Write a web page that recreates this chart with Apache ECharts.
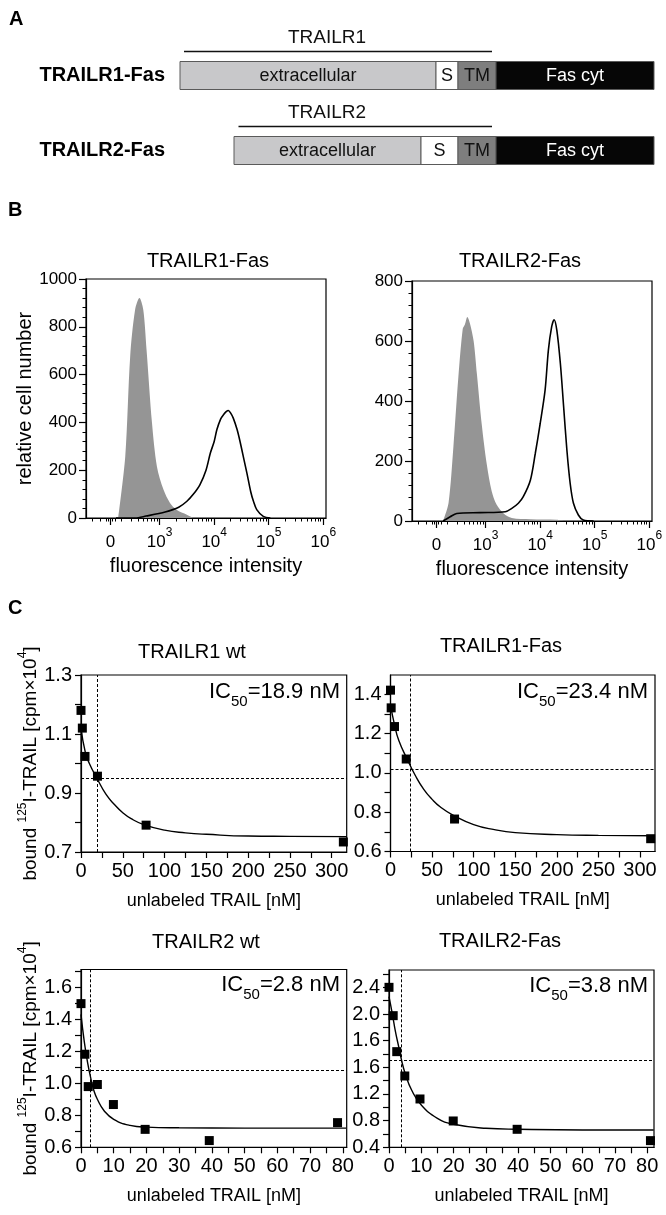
<!DOCTYPE html>
<html>
<head>
<meta charset="utf-8">
<title>TRAILR-Fas chimeras</title>
<script src="https://cdn.jsdelivr.net/npm/echarts@6/dist/echarts.min.js"></script>
<style>
  html, body { margin: 0; padding: 0; background: #fff; }
  #chart { width: 666px; height: 1215px; }
</style>
</head>
<body>
<div id="chart"></div>
<script>
var FONT = "'Liberation Sans', Arial, Helvetica, sans-serif";

// ---- A: domain schematic (x in schematic units) ----
var schemeRows = ['TRAILR1-Fas', 'TRAILR2-Fas'];
var domainNames = ['extracellular', 'S', 'TM', 'Fas cyt'];
var r1Bounds = [0, 256, 278, 316, 474];
var r2Bounds = [54, 241, 278, 316, 474];
var receptorNames = ['TRAILR1', 'TRAILR2'];
var receptorSpans = [[4, 312], [58.5, 312]];
var receptorLabelX = [147, 147];

// ---- B: flow histograms, x = position on the biexponential display axis ----
var bTickPos = [2.1, 3, 4, 5, 6];
var bTickBase = ['0', '10', '10', '10', '10'];
var bTickExp = ['', '3', '4', '5', '6'];
var bMinorPos = [1.76, 1.91, 2.02, 2.06, 2.14, 2.18, 2.30, 2.48, 2.60, 2.70, 2.78, 2.85, 2.90, 2.95,
	3.30, 3.48, 3.60, 3.70, 3.78, 3.85, 3.90, 3.95, 4.30, 4.48, 4.60, 4.70, 4.78, 4.85, 4.90, 4.95,
	5.30, 5.48, 5.60, 5.70, 5.78, 5.85, 5.90, 5.95];

var r1ControlX = [2.24, 2.37, 2.46, 2.55, 2.63, 2.70, 2.76, 2.86, 2.95, 3.07, 3.19, 3.31, 3.50, 3.62];
var r1ControlN = [0, 258, 676, 871, 920, 871, 704, 397, 216, 119, 63, 35, 14, 0];
var r1StainX = [2.20, 2.55, 2.75, 3.10, 3.35, 3.50, 3.62, 3.74, 3.85, 3.93, 4.00, 4.05, 4.12, 4.17, 4.22, 4.26, 4.30, 4.35, 4.42, 4.48, 4.55, 4.60, 4.67, 4.72, 4.78, 4.90, 5.03];
var r1StainN = [0, 0, 8, 25, 45, 70, 100, 140, 200, 272, 320, 370, 415, 432, 445, 450, 440, 418, 370, 314, 240, 188, 110, 70, 35, 7, 0];

var r2ControlX = [2.22, 2.32, 2.41, 2.50, 2.58, 2.62, 2.665, 2.71, 2.78, 2.84, 2.93, 3.02, 3.11, 3.20, 3.33, 3.48, 3.82, 4.30, 4.43];
var r2ControlN = [0, 60, 250, 480, 640, 655, 680, 660, 600, 490, 320, 190, 100, 55, 25, 10, 6, 4, 0];
var r2StainX = [2.22, 2.35, 2.47, 2.90, 3.36, 3.48, 3.60, 3.69, 3.82, 3.91, 4.00, 4.09, 4.15, 4.21, 4.255, 4.305, 4.37, 4.43, 4.49, 4.55, 4.61, 4.70, 4.79, 4.98];
var r2StainN = [0, 14, 25, 28, 31, 42, 59, 81, 136, 225, 325, 436, 569, 647, 671, 636, 525, 381, 236, 125, 59, 20, 3, 0];

// ---- C: competition binding, x = unlabeled TRAIL [nM] ----
var r1wtDoseX = [0, 1.6, 4.8, 19.7, 77.9, 314];
var r1wtBound = [1.18, 1.12, 1.024, 0.957, 0.791, 0.734];
var r1wtFitX = [0, 5, 10, 20, 30, 40, 50, 60, 75, 100, 125, 150, 200, 250, 318];
var r1wtFitY = [1.12, 1.04, 1.0, 0.945, 0.895, 0.861, 0.833, 0.813, 0.793, 0.774, 0.765, 0.760, 0.754, 0.753, 0.752];

var r1fasDoseX = [0, 0.8, 4.8, 18.9, 77, 312.8];
var r1fasBound = [1.42, 1.33, 1.235, 1.07, 0.765, 0.665];
var r1fasFitX = [0, 5, 10, 20, 30, 40, 50, 60, 75, 100, 125, 150, 200, 250, 318];
var r1fasFitY = [1.344, 1.241, 1.164, 1.07, 0.985, 0.916, 0.865, 0.826, 0.785, 0.737, 0.711, 0.696, 0.686, 0.682, 0.680];

var r2wtDoseX = [0, 1.2, 2.2, 5.0, 9.9, 19.6, 39.2, 78.4];
var r2wtBound = [1.497, 1.181, 0.979, 0.992, 0.867, 0.712, 0.642, 0.754];
var r2wtFitX = [0, 1, 2, 3, 4, 5, 7, 10, 15, 20, 30, 50, 81];
var r2wtFitY = [1.43, 1.26, 1.13, 1.03, 0.95, 0.90, 0.83, 0.775, 0.737, 0.726, 0.722, 0.72, 0.72];

var r2fasDoseX = [0, 1.3, 2.4, 4.9, 9.6, 19.9, 39.7, 81];
var r2fasBound = [2.80, 2.375, 1.835, 1.47, 1.125, 0.795, 0.67, 0.50];
var r2fasFitX = [0, 1, 2, 3, 4, 5, 7, 10, 15, 20, 30, 40, 60, 82];
var r2fasFitY = [2.66, 2.41, 2.135, 1.91, 1.685, 1.51, 1.26, 1.035, 0.835, 0.745, 0.685, 0.67, 0.66, 0.66];

var ic50Values = [18.9, 23.4, 2.8, 3.8];
var halfMax = [0.948, 1.024, 1.076, 1.70];
var ic50Text = ['18.9', '23.4', '2.8', '3.8'];
var cTitles = ['TRAILR1 wt', 'TRAILR1-Fas', 'TRAILR2 wt', 'TRAILR2-Fas'];

// axis ticks and tick labels of panel C
var xTicks300 = [0, 25, 50, 75, 100, 125, 150, 175, 200, 225, 250, 275, 300];
var xLabels300 = [0, 50, 100, 150, 200, 250, 300];
var xTicks80 = [0, 5, 10, 15, 20, 25, 30, 35, 40, 45, 50, 55, 60, 65, 70, 75, 80];
var xLabels80 = [0, 10, 20, 30, 40, 50, 60, 70, 80];
var tlYTicks = [0.7, 0.8, 0.9, 1.0, 1.1, 1.2, 1.3];
var tlYLabels = [0.7, 0.9, 1.1, 1.3];
var trYTicks = [0.6, 0.7, 0.8, 0.9, 1.0, 1.1, 1.2, 1.3, 1.4, 1.5];
var trYLabels = [0.6, 0.8, 1.0, 1.2, 1.4];
var blYTicks = [0.6, 0.7, 0.8, 0.9, 1.0, 1.1, 1.2, 1.3, 1.4, 1.5, 1.6, 1.7];
var blYLabels = [0.6, 0.8, 1.0, 1.2, 1.4, 1.6];
var brYTicks = [0.4, 0.6, 0.8, 1.0, 1.2, 1.4, 1.6, 1.8, 2.0, 2.2, 2.4, 2.6, 2.8, 3.0];
var brYLabels = [0.4, 0.8, 1.2, 1.6, 2.0, 2.4, 2.8];
var brYLabelText = ['0.4', '0.8', '1.2', '1.6', '1.6', '2.0', '2.4'];

function pairs(xs, ys) {
	var out = [];
	for (var i = 0; i < xs.length; i++) out.push([xs[i], ys[i]]);
	return out;
}

var black = '#000';
var axisLineStyle = { lineStyle: { color: black, width: 1.2 } };

// ---------- axes ----------
var xAxes = [];
var yAxes = [];

// A
xAxes.push({ gridIndex: 0, type: 'value', min: 0, max: 474, show: false });
yAxes.push({
	gridIndex: 0, type: 'category', data: schemeRows, inverse: true,
	axisLine: { show: false }, axisTick: { show: false }, splitLine: { show: false },
	axisLabel: { color: black, fontFamily: FONT, fontSize: 20, fontWeight: 'bold', margin: 15 }
});

// B
function bXAxes(grid) {
	xAxes.push({
		gridIndex: grid, type: 'value', position: 'bottom', min: 1.65, max: 6.05,
		name: 'fluorescence intensity', nameLocation: 'middle', nameGap: 38,
		nameTextStyle: { color: black, fontFamily: FONT, fontSize: 20 },
		axisLine: axisLineStyle,
		axisTick: { customValues: bTickPos, length: 7, lineStyle: { color: black, width: 1.2 } },
		splitLine: { show: false },
		axisLabel: {
			customValues: bTickPos, margin: 9,
			formatter: function (v) {
				for (var i = 0; i < bTickPos.length; i++) {
					if (Math.abs(v - bTickPos[i]) < 1e-6) {
						return bTickExp[i] ? '{b|' + bTickBase[i] + '}{s|' + bTickExp[i] + '}' : '{b|' + bTickBase[i] + '}';
					}
				}
				return '';
			},
			rich: {
				b: { fontFamily: FONT, fontSize: 17, color: black, lineHeight: 24, verticalAlign: 'bottom' },
				s: { fontFamily: FONT, fontSize: 12, color: black, lineHeight: 12, verticalAlign: 'top' }
			}
		}
	});
	xAxes.push({
		gridIndex: grid, type: 'value', position: 'bottom', min: 1.65, max: 6.05,
		axisLine: { show: false },
		axisTick: { customValues: bMinorPos, length: 3.5, lineStyle: { color: black, width: 1 } },
		axisLabel: { show: false }, splitLine: { show: false }
	});
}
bXAxes(1);
bXAxes(2);

function bYAxis(grid, max, name) {
	return {
		gridIndex: grid, type: 'value', min: 0, max: max, interval: 200,
		name: name, nameLocation: 'middle', nameGap: 45,
		nameTextStyle: { color: black, fontFamily: FONT, fontSize: 20 },
		axisLine: { show: true, lineStyle: { color: black, width: 1.2 } },
		axisTick: { show: true, length: 7, lineStyle: { color: black, width: 1.2 } },
		minorTick: { show: true, splitNumber: 5, length: 3.5, lineStyle: { color: black, width: 1 } },
		splitLine: { show: false },
		axisLabel: { color: black, fontFamily: FONT, fontSize: 17, margin: 9,
			formatter: function (v) { return String(v); } }
	};
}
yAxes.push(bYAxis(1, 1000, 'relative cell number'));
yAxes.push(bYAxis(2, 800, ''));

// C
function cXAxis(grid, max, ticks, labels) {
	return {
		gridIndex: grid, type: 'value', min: 0, max: max,
		name: 'unlabeled TRAIL [nM]', nameLocation: 'middle', nameGap: 40,
		nameTextStyle: { color: black, fontFamily: FONT, fontSize: 18 },
		axisLine: axisLineStyle,
		axisTick: { customValues: ticks, length: 6, lineStyle: { color: black, width: 1.2 } },
		splitLine: { show: false },
		axisLabel: { customValues: labels, color: black, fontFamily: FONT, fontSize: 20, margin: 9 }
	};
}
function cYAxis(grid, min, max, ticks, labels, texts, named) {
	return {
		gridIndex: grid, type: 'value', min: min, max: max,
		name: named ? '{t|bound }{p|125}{t|I-TRAIL [cpm×10}{p|4}{t|]}' : '',
		nameLocation: 'middle', nameGap: 37,
		nameTextStyle: {
			rich: {
				t: { fontFamily: FONT, fontSize: 19, color: black, lineHeight: 24, verticalAlign: 'bottom' },
				p: { fontFamily: FONT, fontSize: 12, color: black, lineHeight: 13, verticalAlign: 'top' }
			}
		},
		axisLine: { show: true, lineStyle: { color: black, width: 1.2 } },
		axisTick: { show: true, customValues: ticks, length: 6, lineStyle: { color: black, width: 1.2 } },
		splitLine: { show: false },
		axisLabel: {
			customValues: labels, color: black, fontFamily: FONT, fontSize: 20, margin: 9,
			formatter: function (v) {
				if (texts) {
					for (var i = 0; i < labels.length; i++) {
						if (Math.abs(v - labels[i]) < 1e-6) return texts[i];
					}
				}
				return v.toFixed(1);
			}
		}
	};
}
xAxes.push(cXAxis(3, 318, xTicks300, xLabels300));
xAxes.push(cXAxis(4, 318, xTicks300, xLabels300));
xAxes.push(cXAxis(5, 81.2, xTicks80, xLabels80));
xAxes.push(cXAxis(6, 82.1, xTicks80, xLabels80));
yAxes.push(cYAxis(3, 0.7, 1.3, tlYTicks, tlYLabels, null, true));
yAxes.push(cYAxis(4, 0.6, 1.497, trYTicks, trYLabels, null, false));
yAxes.push(cYAxis(5, 0.6, 1.71, blYTicks, blYLabels, null, true));
yAxes.push(cYAxis(6, 0.4, 3.06, brYTicks, brYLabels, brYLabelText, false));

// ---------- series ----------
var domainFill = ['#c8c8ca', '#ffffff', '#7e7e7e', '#060606'];
var domainTextColor = ['#111', '#111', '#111', '#fff'];

var domainData = [];
[r1Bounds, r2Bounds].forEach(function (b, r) {
	for (var k = 0; k < domainNames.length; k++) domainData.push([b[k], b[k + 1], r, k]);
});
var spanData = receptorSpans.map(function (s, r) { return [s[0], s[1], r, receptorLabelX[r]]; });

var series = [];

series.push({
	type: 'custom', xAxisIndex: 0, yAxisIndex: 0, data: domainData,
	encode: { x: [0, 1], y: 2 },
	renderItem: function (params, api) {
		var k = api.value(3);
		var p0 = api.coord([api.value(0), api.value(2)]);
		var p1 = api.coord([api.value(1), api.value(2)]);
		var h = 28;
		return {
			type: 'group',
			children: [
				{ type: 'rect', shape: { x: p0[0], y: p0[1] - h / 2, width: p1[0] - p0[0], height: h },
					style: { fill: domainFill[k], stroke: '#5a5a5a', lineWidth: 1 } },
				{ type: 'text', style: { text: domainNames[k], x: (p0[0] + p1[0]) / 2, y: p0[1] + 1,
					align: 'center', verticalAlign: 'middle', fontFamily: FONT, fontSize: 18, fill: domainTextColor[k] } }
			]
		};
	}
});

series.push({
	type: 'custom', xAxisIndex: 0, yAxisIndex: 0, data: spanData,
	encode: { x: [0, 1], y: 2 },
	renderItem: function (params, api) {
		var p0 = api.coord([api.value(0), api.value(2)]);
		var p1 = api.coord([api.value(1), api.value(2)]);
		var pl = api.coord([api.value(3), api.value(2)]);
		return {
			type: 'group',
			children: [
				{ type: 'line', shape: { x1: p0[0], y1: p0[1] - 24, x2: p1[0], y2: p1[1] - 24 },
					style: { stroke: '#111', lineWidth: 1.5 } },
				{ type: 'text', style: { text: receptorNames[params.dataIndex], x: pl[0], y: pl[1] - 38,
					align: 'center', verticalAlign: 'middle', fontFamily: FONT, fontSize: 19, fill: '#111' } }
			]
		};
	}
});

function histSeries(xi, yi, cx, cn, sx, sn) {
	series.push({
		type: 'line', xAxisIndex: xi, yAxisIndex: yi, data: pairs(cx, cn), showSymbol: false, smooth: 0.3,
		lineStyle: { width: 0, color: '#959595' }, itemStyle: { color: '#959595' },
		areaStyle: { color: '#959595', opacity: 1 }, z: 2
	});
	series.push({
		type: 'line', xAxisIndex: xi, yAxisIndex: yi, data: pairs(sx, sn), showSymbol: false, smooth: 0.3,
		lineStyle: { width: 1.6, color: black }, itemStyle: { color: black }, z: 3
	});
}
histSeries(1, 1, r1ControlX, r1ControlN, r1StainX, r1StainN);
histSeries(3, 2, r2ControlX, r2ControlN, r2StainX, r2StainN);

function bindingSeries(ai, dx, dy, fx, fy, ic50, half) {
	series.push({
		type: 'line', xAxisIndex: ai, yAxisIndex: ai - 2, data: pairs(fx, fy), showSymbol: false, smooth: true,
		lineStyle: { width: 1.4, color: black }, itemStyle: { color: black }, z: 3
	});
	series.push({
		type: 'scatter', xAxisIndex: ai, yAxisIndex: ai - 2, data: pairs(dx, dy),
		symbol: 'rect', symbolSize: 9, itemStyle: { color: black, opacity: 1 }, z: 4, clip: false,
		markLine: {
			silent: true, symbol: 'none', animation: false,
			label: { show: false },
			lineStyle: { type: [3, 2], color: black, width: 1 },
			data: [{ xAxis: ic50 }, { yAxis: half }]
		}
	});
}
bindingSeries(5, r1wtDoseX, r1wtBound, r1wtFitX, r1wtFitY, ic50Values[0], halfMax[0]);
bindingSeries(6, r1fasDoseX, r1fasBound, r1fasFitX, r1fasFitY, ic50Values[1], halfMax[1]);
bindingSeries(7, r2wtDoseX, r2wtBound, r2wtFitX, r2wtFitY, ic50Values[2], halfMax[2]);
bindingSeries(8, r2fasDoseX, r2fasBound, r2fasFitX, r2fasFitY, ic50Values[3], halfMax[3]);

// ---------- titles ----------
function plainTitle(text, left, top, size, bold, align) {
	return {
		text: text, left: left, top: top, padding: 0, textAlign: align || 'left',
		textStyle: { fontFamily: FONT, fontSize: size, fontWeight: bold ? 'bold' : 'normal', color: black }
	};
}
function icTitle(val, right, top) {
	return {
		text: '{m|IC}{s|50}{m|=' + val + ' nM}', right: right, top: top, padding: 0,
		textStyle: {
			fontWeight: 'normal',
			rich: {
				m: { fontFamily: FONT, fontSize: 22, fontWeight: 'normal', color: black, lineHeight: 28, verticalAlign: 'top' },
				s: { fontFamily: FONT, fontSize: 15, fontWeight: 'normal', color: black, lineHeight: 17, verticalAlign: 'bottom' }
			}
		}
	};
}
var titles = [
	plainTitle('A', 9, 9, 20, true),
	plainTitle('B', 8, 200, 20, true),
	plainTitle('C', 8, 598, 20, true),
	plainTitle('TRAILR1-Fas', 208, 251, 20, false, 'center'),
	plainTitle('TRAILR2-Fas', 520, 251, 20, false, 'center'),
	plainTitle(cTitles[0], 192, 642, 20, false, 'center'),
	plainTitle(cTitles[1], 501, 636, 20, false, 'center'),
	plainTitle(cTitles[2], 206, 932, 20, false, 'center'),
	plainTitle(cTitles[3], 500, 931, 20, false, 'center'),
	icTitle(ic50Text[0], 326, 681),
	icTitle(ic50Text[1], 18, 681),
	icTitle(ic50Text[2], 326, 974),
	icTitle(ic50Text[3], 18, 975)
];

var boxGrid = { show: true, borderColor: black, borderWidth: 1.2, backgroundColor: 'transparent', outerBoundsMode: 'none' };
var grids = [
	{ left: 180, top: 38, width: 474, height: 150, outerBoundsMode: 'none' },
	Object.assign({ left: 86, top: 279, width: 240, height: 239 }, boxGrid),
	Object.assign({ left: 412, top: 281, width: 240, height: 240 }, boxGrid),
	Object.assign({ left: 81, top: 675, width: 265.7, height: 177 }, boxGrid),
	Object.assign({ left: 390.5, top: 675, width: 264.5, height: 176.5 }, boxGrid),
	Object.assign({ left: 81, top: 969.5, width: 265.7, height: 177.8 }, boxGrid),
	Object.assign({ left: 389, top: 970, width: 265, height: 177.3 }, boxGrid)
];

var chart = echarts.init(document.getElementById('chart'), null, { renderer: 'canvas' });
chart.setOption({
	animation: false,
	backgroundColor: '#fff',
	title: titles,
	grid: grids,
	xAxis: xAxes,
	yAxis: yAxes,
	series: series
});
</script>
</body>
</html>
